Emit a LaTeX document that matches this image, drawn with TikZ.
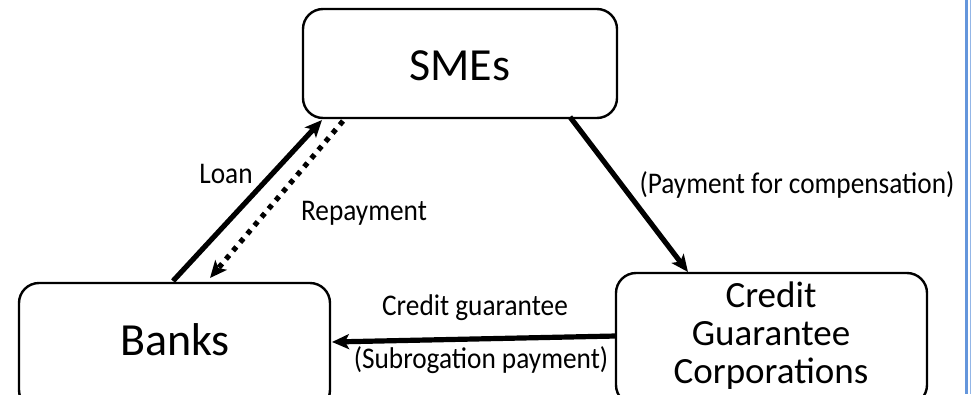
\documentclass[tikz,border=0pt]{standalone}
\usepackage{fontspec}
\setmainfont{Carlito}
\usetikzlibrary{arrows.meta}
\definecolor{edgeblue}{RGB}{100,150,220}
\newcommand{\narrow}[1]{\scalebox{0.91}[1]{#1}}
\tikzset{
  box/.style={draw=black, line width=2.4pt, rounded corners=20pt},
  flow/.style={line width=5.2pt, -{Stealth[length=17pt,width=15pt,inset=4pt]}},
  dotflow/.style={line width=5.2pt, dash pattern=on 5pt off 6pt, -{Stealth[length=17pt,width=15pt,inset=4pt]}},
  lbl/.style={font=\fontsize{30}{32}\selectfont, anchor=base, inner sep=0pt},
  big/.style={font=\fontsize{46}{50}\selectfont, inner sep=0pt},
  cgc/.style={font=\fontsize{37}{38}\selectfont, anchor=base, inner sep=0pt}
}
\begin{document}
\begin{tikzpicture}[x=1pt,y=-1pt]
\useasboundingbox (0,0) rectangle (971,394);
% boxes
\draw[box] (303,9) rectangle (617,118);
\draw[box] (19,283) rectangle (330,410);
\draw[box] (616,273) rectangle (927,405);
% box texts
\node[big] (smes) at (460,66) {SMEs};
\node[big] (banks) at (175,340) {Banks};
\node[cgc] (cgc1) at (771,307) {Credit};
\node[cgc] (cgc2) at (771,345) {Guarantee};
\node[cgc] (cgc3) at (771,383) {Corporations};
% connector endpoints
\coordinate (loanS) at (173,281);
\coordinate (loanE) at (322,120);
\coordinate (repS) at (343,121);
\coordinate (repE) at (210,278);
\coordinate (payS) at (570,117);
\coordinate (payE) at (688,272);
\coordinate (cgS) at (616,336);
\coordinate (cgE) at (332,342);
% connectors
\draw[flow] (loanS) -- (loanE);
\draw[dotflow] (repS) -- (repE);
\draw[flow] (payS) -- (payE);
\draw[flow] (cgS) -- (cgE);
% labels
\node[lbl] (loan) at (226,183) {\narrow{Loan}};
\node[lbl] (repay) at (364,220) {\narrow{Repayment}};
\node[lbl] (paycomp) at (797,193) {\narrow{(Payment for compensation)}};
\node[lbl] (cg) at (475,315) {\narrow{Credit guarantee}};
\node[lbl] (subro) at (481,368) {\narrow{(Subrogation payment)}};
% right edge lines
\draw[edgeblue, line width=2.5pt] (966.3,0) -- (966.3,394);
\draw[edgeblue!70, line width=1pt] (970,0) -- (970,394);
\end{tikzpicture}
\end{document}
